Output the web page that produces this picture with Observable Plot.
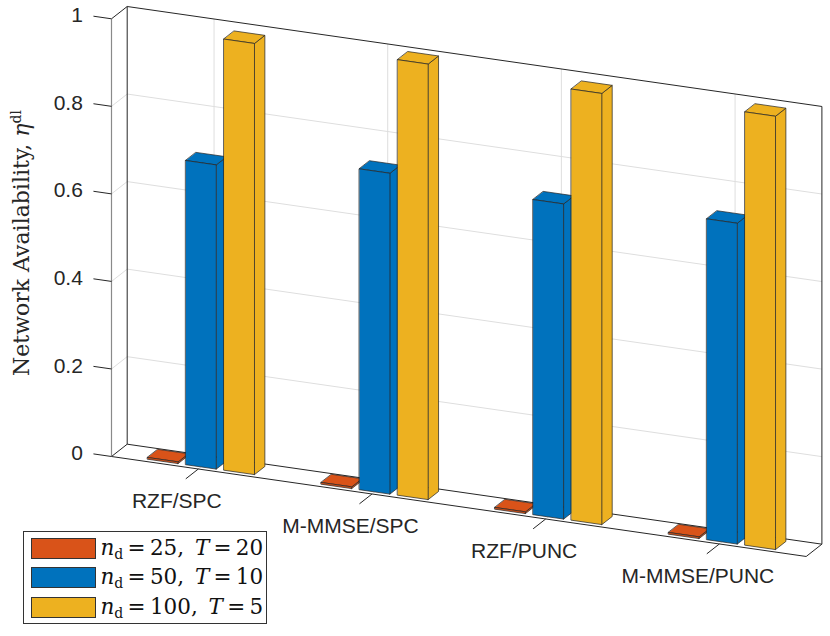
<!DOCTYPE html>
<html>
<head>
<meta charset="utf-8">
<script src="https://cdn.jsdelivr.net/npm/d3@7"></script>
<script src="https://cdn.jsdelivr.net/npm/@observablehq/plot@0.6"></script>
<style>
  body { margin: 0; background: #fff; }
  #wrap { position: relative; width: 830px; height: 636px; overflow: hidden; background: #fff; }
  #wrap svg { position: absolute; left: 0; top: 0; }
  #ylabel {
    position: absolute; left: -178px; top: 230px; width: 400px; height: 26px; line-height: 26px;
    text-align: center; transform: rotate(-90deg); transform-origin: 50% 50%;
    font-family: "DejaVu Serif", "Liberation Serif", serif; font-size: 22px; color: #262626; white-space: nowrap;
  }
  #ylabel sup { font-size: 14px; vertical-align: 8px; line-height: 0; }
  #legend {
    position: absolute; left: 22.5px; top: 530.5px; width: 244px; height: 93.5px; box-sizing: border-box;
    border: 1.3px solid #333; background: #fff;
  }
  .sw { position: absolute; left: 7.5px; width: 65px; height: 21px; box-sizing: border-box; border: 1px solid #333; }
  .lt { position: absolute; left: 77px; height: 24px; line-height: 24px; white-space: nowrap;
        font-family: "DejaVu Serif", "Liberation Serif", serif; font-size: 21.5px; color: #111; }
  .lt sub { font-size: 14px; vertical-align: -4px; line-height: 0; font-style: normal; }
</style>
</head>
<body>
<div id="wrap">
  <div id="ylabel">Network Availability, <i>η</i><sup>dl</sup></div>
  <div id="legend"></div>
</div>
<script>
// ---------------- data ----------------
const groups = ["RZF/SPC", "M-MMSE/SPC", "RZF/PUNC", "M-MMSE/PUNC"];
const seriesColors = ["#D95319", "#0072BD", "#EDB120"];
const seriesNd = ["25", "50", "100"];
const seriesT = ["20", "10", "5"];
const valuesNd25 = [0.004, 0.004, 0.004, 0.004];
const valuesNd50 = [0.695, 0.733, 0.720, 0.733];
const valuesNd100 = [0.985, 0.995, 0.985, 0.990];
const yTicks = [0, 0.2, 0.4, 0.6, 0.8, 1];
const yTickLabels = ["0", "0.2", "0.4", "0.6", "0.8", "1"];

const seriesValues = [valuesNd25, valuesNd50, valuesNd100];

// ---------------- 3-D axes (data units) ----------------
const U0 = 0.5, U1 = 4.5;          // group axis limits
const VB0 = 0.17, VB1 = 0.83;      // bar depth extent (box depth 0..1)
const OFF = [-0.22, 0, 0.22];      // grouped bar offsets
const HW = 0.088;                  // half bar width
// oblique projection: depth shifts right/up, group axis slopes down
const A = 0.0904, B = 0.0571, C = 0.0281;
const PX = (u, v) => u + A * v;
const PY = (u, v, z) => z - B * (u - U0) + C * v;

// ---------------- faces ----------------
const faces = [];
let fid = 0;
function face(pts, color) {
  fid++;
  for (const [u, v, z] of pts) faces.push({ id: fid, color, X: PX(u, v), Y: PY(u, v, z) });
}
groups.forEach((g, gi) => {
  const gc = gi + 1;
  seriesValues.forEach((vals, s) => {
    const h = vals[gi];
    const uc = gc + OFF[s], uL = uc - HW, uR = uc + HW;
    const col = seriesColors[s];
    face([[uR, VB0, 0], [uR, VB1, 0], [uR, VB1, h], [uR, VB0, h]], col);   // right side
    face([[uL, VB0, h], [uR, VB0, h], [uR, VB1, h], [uL, VB1, h]], col);   // top
    face([[uL, VB0, 0], [uR, VB0, 0], [uR, VB0, h], [uL, VB0, h]], col);   // front
  });
});

// ---------------- lines ----------------
const segs = [];
function seg(a, b, kind) {
  segs.push({ x1: PX(a[0], a[1]), y1: PY(a[0], a[1], a[2]), x2: PX(b[0], b[1]), y2: PY(b[0], b[1], b[2]), kind });
}
const inner = yTicks.filter(t => t > 0 && t < 1);
for (const t of inner) {
  seg([U0, 1, t], [U1, 1, t], "grid");      // back wall
  seg([U0, 0, t], [U0, 1, t], "grid");      // left wall
}
groups.forEach((g, gi) => {
  const u = gi + 1;
  seg([u, 1, 0], [u, 1, 1], "grid");        // back wall verticals
  seg([u, 0, 0], [u, 1, 0], "grid");        // floor
});
// box edges
seg([U0, 1, 0], [U0, 1, 1], "box");
seg([U1, 1, 0], [U1, 1, 1], "box");
seg([U0, 1, 1], [U1, 1, 1], "box");
seg([U0, 0, 1], [U0, 1, 1], "box");
seg([U0, 1, 0], [U1, 1, 0], "box");
seg([U0, 0, 0], [U0, 1, 0], "box");
seg([U1, 0, 0], [U1, 1, 0], "box");
seg([U0, 0, 0], [U1, 0, 0], "box");
seg([U0, 0, 0], [U0, 0, 1], "zaxis");
// ticks
for (const t of yTicks) seg([U0, 0, t], [U0 - 0.104, 0, t], "tick");
groups.forEach((g, gi) => seg([gi + 1, 0, 0], [gi + 1, -0.8, 0], "tick"));

const yLab = yTicks.map((t, i) => ({ X: PX(U0 - 0.165, 0), Y: PY(U0 - 0.165, 0, t), text: yTickLabels[i] }));
const gLab = groups.map((g, gi) => ({ X: PX(gi + 1, -1.37), Y: PY(gi + 1, -1.37, 0), text: g }));

const chart = Plot.plot({
  width: 830,
  height: 636,
  marginLeft: 111,
  marginRight: 24.3,
  marginTop: 18.3,
  marginBottom: 180,
  x: { domain: [U0, U1], axis: null },
  y: { domain: [0, 1], axis: null },
  color: { type: "identity" },
  style: { background: "transparent", overflow: "visible" },
  marks: [
    Plot.link(segs.filter(d => d.kind === "grid"), { x1: "x1", y1: "y1", x2: "x2", y2: "y2", stroke: "#dedede", strokeWidth: 1 }),
    Plot.link(segs.filter(d => d.kind === "box"), { x1: "x1", y1: "y1", x2: "x2", y2: "y2", stroke: "#262626", strokeWidth: 1 }),
    Plot.link(segs.filter(d => d.kind === "zaxis"), { x1: "x1", y1: "y1", x2: "x2", y2: "y2", stroke: "#8a8a8a", strokeWidth: 1.2 }),
    Plot.line(faces, { x: "X", y: "Y", z: "id", fill: "color", stroke: "#262626", strokeWidth: 0.8, strokeOpacity: 0.9, curve: "linear-closed" }),
    Plot.link(segs.filter(d => d.kind === "tick"), { x1: "x1", y1: "y1", x2: "x2", y2: "y2", stroke: "#262626", strokeWidth: 1 }),
    Plot.text(yLab, { x: "X", y: "Y", text: "text", textAnchor: "end", fontSize: 21, fontFamily: "Liberation Sans, Arial, sans-serif", fill: "#262626", dy: 1 }),
    Plot.text(gLab, { x: "X", y: "Y", text: "text", textAnchor: "middle", lineAnchor: "top", dy: 7, fontSize: 21, fontFamily: "Liberation Sans, Arial, sans-serif", fill: "#262626" })
  ]
});
document.getElementById("wrap").prepend(chart);

// ---------------- legend ----------------
const legend = document.getElementById("legend");
const rowTops = [6, 35.5, 65.5];
seriesColors.forEach((c, i) => {
  const sw = document.createElement("div");
  sw.className = "sw";
  sw.style.top = rowTops[i] + "px";
  sw.style.background = c;
  legend.appendChild(sw);
  const lt = document.createElement("div");
  lt.className = "lt";
  lt.style.top = (rowTops[i] - 2) + "px";
  lt.innerHTML = `<i>n</i><sub>d</sub>&thinsp;=&thinsp;${seriesNd[i]},&ensp;<i>T</i>&thinsp;=&thinsp;${seriesT[i]}`;
  legend.appendChild(lt);
});
</script>
</body>
</html>
